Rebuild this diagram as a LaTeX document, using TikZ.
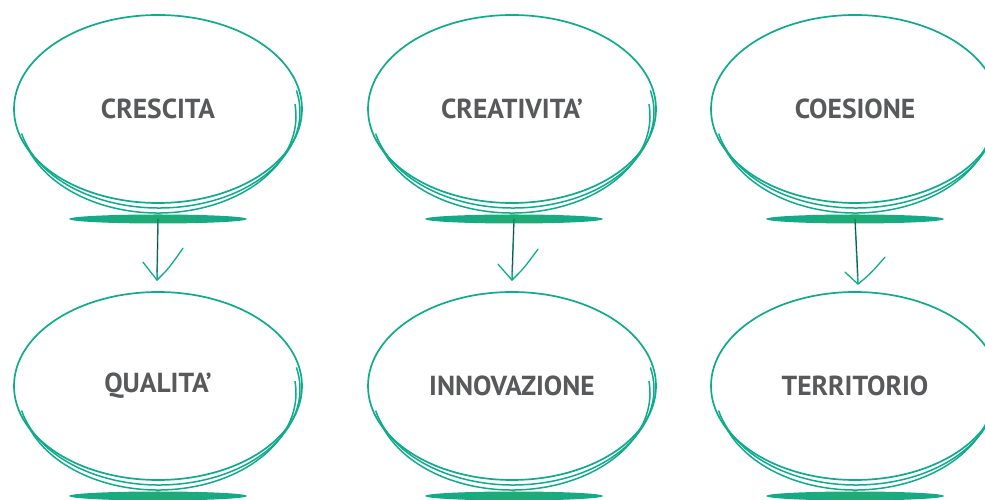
\documentclass[tikz,border=0pt]{standalone}
\usepackage{fontspec}
\setmainfont{PT Sans}
\usetikzlibrary{shapes.geometric,calc}
\definecolor{tl}{HTML}{10AA8C}
\definecolor{tlg}{HTML}{3FAE4A}
\definecolor{txt}{HTML}{58595B}
\tikzset{
  bubble/.style={ellipse, draw=tl, line width=1.7pt, minimum width=288pt, minimum height=188pt, inner sep=0pt,
    font=\fontsize{27.5}{30}\selectfont\bfseries, text=txt},
  extra/.style={draw=tl, line width=1.5pt},
  plate/.style={ellipse, minimum width=178pt, minimum height=9pt, inner sep=0pt,
    shading=axis, left color=tl, right color=tl, middle color=tlg!35!tl, shading angle=90},
  conn/.style={draw=tl, line width=1.5pt},
  core/.style={draw=black!80, line width=0.6pt},
  head/.style={draw=tl, line width=1.3pt, line cap=round, line join=round}
}
\newcommand{\strokes}[1]{%
  \draw[extra] ([shift={(1,-3)}]#1.center) ++(193:141 and 96) arc[start angle=193, end angle=373, x radius=141, y radius=96];
  \draw[extra] ([shift={(0,-7)}]#1.center) ++(197:138 and 97) arc[start angle=197, end angle=367, x radius=138, y radius=97];
}
\begin{document}
\begin{tikzpicture}[x=1pt,y=1pt]
\useasboundingbox (0,0) rectangle (985,500);
\fill[white] (0,0) rectangle (985,500);
% top row
\node[bubble] (a1) at (158,391) {CRESCITA};
\node[bubble] (a2) at (512,391) {CREATIVITA’};
\node[bubble] (a3) at (855,391) {COESIONE};
% bottom row
\node[bubble] (b1) at (158,114) {QUALITA’};
\node[bubble] (b2) at (512,114) {INNOVAZIONE};
\node[bubble] (b3) at (855,114) {TERRITORIO};
\strokes{a1}\strokes{a2}\strokes{a3}
\strokes{b1}\strokes{b2}\strokes{b3}
% plates
\node[plate] (s1) at (158,281) {};
\node[plate] (s2) at (514,281) {};
\node[plate] (s3) at (855,281) {};
\node[plate] (p1) at (158,4) {};
\node[plate] (p2) at (514,4) {};
\node[plate] (p3) at (855,4) {};
% arrows
\coordinate (t1) at ([shift={(-1,11)}]b1.north);
\coordinate (t2) at ([shift={(0,11)}]b2.north);
\coordinate (t3) at ([shift={(3,7)}]b3.north);
\draw[conn] (s1.center) -- (t1);
\draw[core] (s1.center) -- ($(t1)+(0,8)$);
\draw[head] ($(t1)+(-14,18)$) -- (t1) .. controls ($(t1)+(12,12)$) .. ($(t1)+(26,32)$);
\draw[conn] (s2.center) -- (t2);
\draw[core] (s2.center) -- ($(t2)+(0,8)$);
\draw[head] ($(t2)+(-14,16)$) -- (t2) .. controls ($(t2)+(12,12)$) .. ($(t2)+(26,31)$);
\draw[conn] (s3.center) -- (t3);
\draw[core] (s3.center) -- ($(t3)+(0,8)$);
\draw[head] ($(t3)+(-13,12)$) -- (t3) .. controls ($(t3)+(12,10)$) .. ($(t3)+(27,27)$);
\end{tikzpicture}
\end{document}
